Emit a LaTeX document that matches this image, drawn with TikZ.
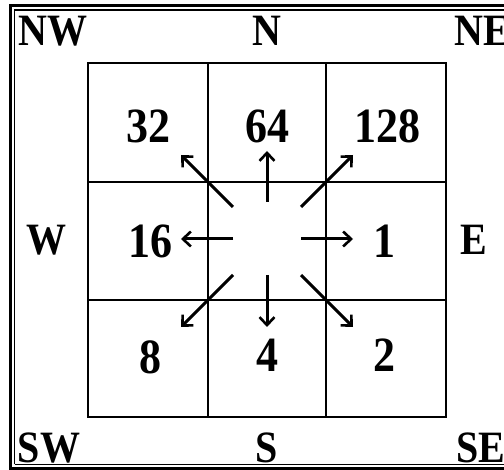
\documentclass[tikz,border=0pt]{standalone}
\usepackage{fontspec}
\setmainfont{Liberation Serif}
\usetikzlibrary{arrows.meta}
\tikzset{
  x=1pt, y=-1pt,
  gridline/.style={line width=2.8pt, line cap=rect},
  dirarrow/.style={line width=3pt, -{Straight Barb[length=8pt,width=15pt,line width=2.6pt]}},
  compass/.style={inner sep=0pt, font=\fontsize{40}{40}\selectfont\bfseries},
  cellnum/.style={inner sep=0pt, font=\fontsize{44}{44}\selectfont\bfseries},
}
\newcommand{\vs}[1]{\scalebox{1}[1.12]{#1}}
\begin{document}
\begin{tikzpicture}
\useasboundingbox (0,0) rectangle (504,470);
% outer double frame
\draw[line width=3pt] (10.5,520) -- (10.5,5.5) -- (520,5.5);
\draw[line width=3pt] (10.5,468.5) -- (520,468.5);
\draw[line width=1.3pt] (14.5,464.5) -- (14.5,10) -- (520,10);
\draw[line width=1.3pt] (14.5,464.8) -- (520,464.8);
% grid
\draw[gridline] (88,63) rectangle (446,417);
\draw[gridline] (208,63) -- (208,417);
\draw[gridline] (326,63) -- (326,417);
\draw[gridline] (88,182) -- (446,182);
\draw[gridline] (88,300) -- (446,300);
% compass labels
\node[compass] (nw) at (53,31) {\vs{NW}};
\node[compass] (n)  at (267,31) {\vs{N}};
\node[compass] (ne) at (482,31) {\vs{NE}};
\node[compass] (w)  at (47,240) {\vs{W}};
\node[compass] (e)  at (474,240) {\vs{E}};
\node[compass] (sw) at (49,448) {\vs{SW}};
\node[compass] (s)  at (267,448) {\vs{S}};
\node[compass] (se) at (481,448) {\vs{SE}};
% cell numbers
\node[cellnum] (c32)  at (148,126) {\vs{32}};
\node[cellnum] (c64)  at (267,126) {\vs{64}};
\node[cellnum] (c128) at (387,126) {\vs{128}};
\node[cellnum] (c16)  at (150,241) {\vs{16}};
\node[cellnum] (c1)   at (384,241) {\vs{1}};
\node[cellnum] (c8)   at (150,357) {\vs{8}};
\node[cellnum] (c4)   at (267,355) {\vs{4}};
\node[cellnum] (c2)   at (384,355) {\vs{2}};
% arrow end points
\coordinate (an0) at (267,202); \coordinate (an1) at (267,151);
\coordinate (as0) at (267,275); \coordinate (as1) at (267,327);
\coordinate (aw0) at (233,239); \coordinate (aw1) at (181,239);
\coordinate (ae0) at (301,239); \coordinate (ae1) at (353,239);
\coordinate (anw0) at (233,207); \coordinate (anw1) at (181,155);
\coordinate (ane0) at (301,207); \coordinate (ane1) at (353,155);
\coordinate (asw0) at (233,275); \coordinate (asw1) at (181,327);
\coordinate (ase0) at (301,275); \coordinate (ase1) at (353,327);
\foreach \d in {n,s,w,e,nw,ne,sw,se}
  \draw[dirarrow] (a\d0) -- (a\d1);
\end{tikzpicture}
\end{document}
